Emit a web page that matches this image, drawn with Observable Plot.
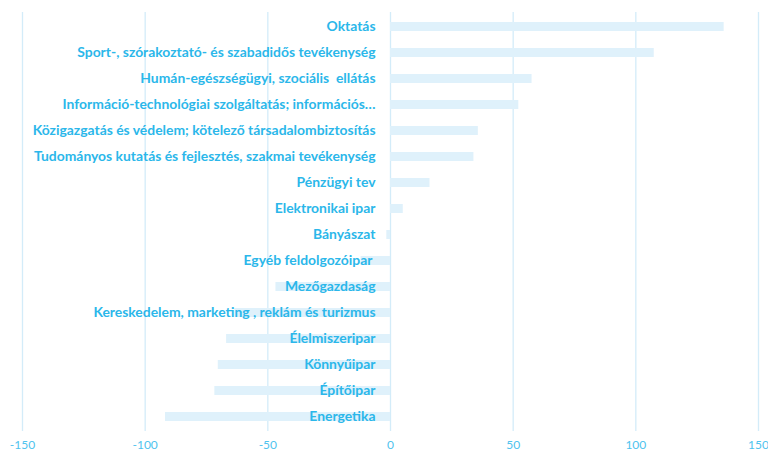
<!DOCTYPE html>
<html>
<head>
<meta charset="utf-8">
<script src="https://cdn.jsdelivr.net/npm/d3@7"></script>
<script src="https://cdn.jsdelivr.net/npm/@observablehq/plot@0.6"></script>
<style>
  html, body { margin: 0; padding: 0; background: #fff; }
</style>
</head>
<body>
<div id="chart"></div>
<script>
const categories = [
  "Oktatás",
  "Sport-, szórakoztató- és szabadidős tevékenység",
  "Humán-egészségügyi, szociális  ellátás",
  "Információ-technológiai szolgáltatás; információs…",
  "Közigazgatás és védelem; kötelező társadalombiztosítás",
  "Tudományos kutatás és fejlesztés, szakmai tevékenység",
  "Pénzügyi tev",
  "Elektronikai ipar",
  "Bányászat",
  "Egyéb feldolgozóipar ",
  "Mezőgazdaság",
  "Kereskedelem, marketing , reklám és turizmus",
  "Élelmiszeripar",
  "Könnyűipar",
  "Építőipar",
  "Energetika"
];
const values = [136, 107.5, 57.7, 52.3, 35.8, 34, 16.1, 5.2, -1.5, -12, -46.7, -63.4, -66.8, -70.2, -71.6, -91.7];
const xTicks = [-150, -100, -50, 0, 50, 100, 150];

const data = categories.map((c, i) => ({category: c, value: values[i]}));

const chart = Plot.plot({
  width: 768,
  height: 455,
  marginLeft: 22,
  marginRight: 10,
  marginTop: 12,
  marginBottom: 24,
  style: {fontFamily: "Lato, 'Open Sans', sans-serif", background: "#fff"},
  x: {domain: [-150, 150], ticks: xTicks, label: null},
  y: {domain: categories, paddingInner: 0.65, paddingOuter: 0.325, axis: null},
  marks: [
    Plot.ruleX(xTicks, {stroke: "#d3ecf9", strokeWidth: 1.3}),
    Plot.barX(data, {x: "value", y: "category", fill: "#dff1fb"}),
    Plot.text(data, {
      x: () => 0, y: "category", text: "category",
      textAnchor: "end", dx: -15,
      fill: "#2bb7ea", fontWeight: "bold", fontSize: 13.9
    }),
    Plot.axisX({ticks: xTicks, tickSize: 0, tickPadding: 9, fontSize: 12, color: "#4fc3ee", label: null,
      tickFormat: d => String(d)})
  ]
});
document.getElementById("chart").appendChild(chart);
</script>
</body>
</html>
